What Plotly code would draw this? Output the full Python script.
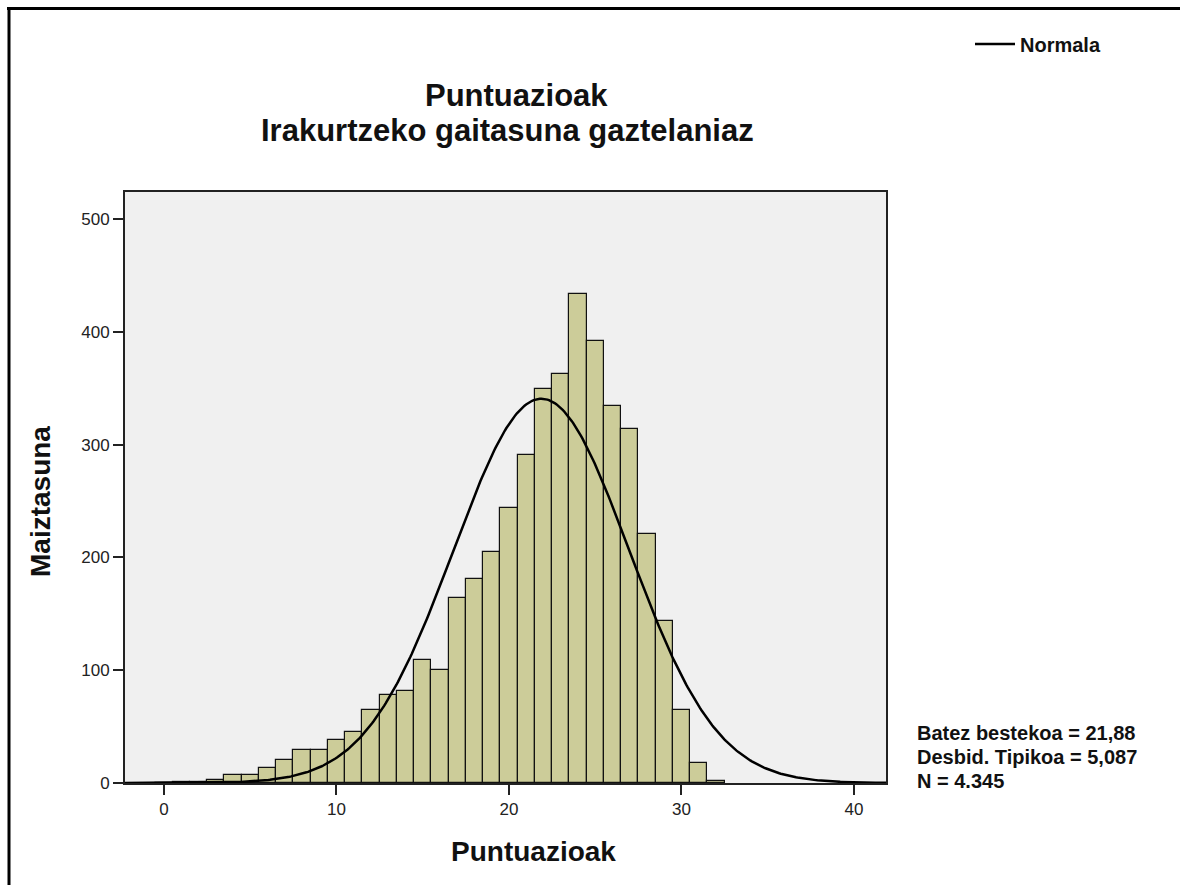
import numpy as np
import plotly.graph_objects as go

# Histogram data (bins centred on integer scores, width 1)
scores = list(range(0, 33))
counts = [0, 1, 1, 3, 7, 7, 13, 20, 29, 29, 38, 45, 65, 78, 82, 109, 100,
          164, 181, 205, 244, 291, 349, 363, 434, 392, 334, 314, 221, 144, 65, 18, 2]

mean_val = 21.88
sd_val = 5.087
n_val = 4345

title_lines = ["Puntuazioak", "Irakurtzeko gaitasuna gaztelaniaz"]
x_title = "Puntuazioak"
y_title = "Maiztasuna"
legend_label = "Normala"
stats_lines = ["Batez bestekoa = 21,88", "Desbid. Tipikoa = 5,087", "N = 4.345"]

x_ticks = [0, 10, 20, 30, 40]
y_ticks = [0, 100, 200, 300, 400, 500]
x_range = [-2.26, 41.86]
y_range = [0, 524]

W, H = 1180, 885
# plot area in page coordinates: x 125..886, y 192..783
L, T = 125, 192
R = W - 886
B = H - 783
pw, ph = W - L - R, H - T - B

def px(x):  # page x -> paper
    return (x - L) / pw

def py(y):  # page y -> paper
    return (H - B - y) / ph

FONT = "Liberation Sans, Arial, sans-serif"

xs = np.linspace(x_range[0], x_range[1], 500)
ys = n_val / (sd_val * np.sqrt(2 * np.pi)) * np.exp(-0.5 * ((xs - mean_val) / sd_val) ** 2)

fig = go.Figure()
fig.add_trace(go.Bar(
    x=scores, y=counts, width=1,
    marker=dict(color="#cccc99", line=dict(color="#111111", width=1.2)),
    showlegend=False, hoverinfo="x+y"))
fig.add_trace(go.Scatter(
    x=xs, y=ys, mode="lines", name="<b>" + legend_label + "</b>",
    line=dict(color="#000000", width=2.5), showlegend=True))

fig.update_layout(
    width=W, height=H,
    margin=dict(l=L, r=R, t=T, b=B, autoexpand=False),
    paper_bgcolor="white", plot_bgcolor="#f0f0f0",
    bargap=0,
    font=dict(family=FONT, color="#222222"),
    legend=dict(x=px(970), y=py(44), xanchor="left", yanchor="middle",
                bgcolor="rgba(0,0,0,0)", font=dict(size=20, color="#111111", family=FONT),
                itemwidth=40),
    xaxis=dict(range=x_range, tickvals=x_ticks, ticks="outside", ticklen=10,
               tickwidth=1.5, tickcolor="#222222", showgrid=False, zeroline=False,
               showline=True, linecolor="#222222", linewidth=2, mirror=True,
               tickfont=dict(size=17, color="#222222")),
    yaxis=dict(range=y_range, tickvals=y_ticks, ticks="outside", ticklen=10,
               tickwidth=1.5, tickcolor="#222222", showgrid=False, zeroline=False,
               showline=True, linecolor="#222222", linewidth=2, mirror=True,
               tickfont=dict(size=17, color="#222222")),
)

ann = []
ann.append(dict(text="<b>" + title_lines[0] + "</b>", x=px(516), y=py(95),
                xref="paper", yref="paper", showarrow=False,
                font=dict(size=31, color="#111111"), xanchor="center", yanchor="middle"))
ann.append(dict(text="<b>" + title_lines[1] + "</b>", x=px(507), y=py(131),
                xref="paper", yref="paper", showarrow=False,
                font=dict(size=31, color="#111111"), xanchor="center", yanchor="middle"))
ann.append(dict(text="<b>" + x_title + "</b>", x=px(533), y=py(851),
                xref="paper", yref="paper", showarrow=False,
                font=dict(size=28, color="#111111"), xanchor="center", yanchor="middle"))
ann.append(dict(text="<b>" + y_title + "</b>", x=px(40), y=py(502),
                xref="paper", yref="paper", showarrow=False, textangle=-90,
                font=dict(size=28, color="#111111"), xanchor="center", yanchor="middle"))
for i, s in enumerate(stats_lines):
    ann.append(dict(text="<b>" + s + "</b>", x=px(915), y=py(733 + 24 * i),
                    xref="paper", yref="paper", showarrow=False,
                    font=dict(size=20, color="#111111"), xanchor="left", yanchor="middle"))
fig.update_layout(annotations=ann)

# outer frame (top and left edges)
fig.add_shape(type="line", xref="paper", yref="paper",
              x0=px(7), x1=px(1190), y0=py(8.5), y1=py(8.5),
              line=dict(color="black", width=3))
fig.add_shape(type="line", xref="paper", yref="paper",
              x0=px(9), x1=px(9), y0=py(7), y1=py(900),
              line=dict(color="black", width=3))

fig.write_html("out.html",
               config={"displayModeBar": False},
               post_script="document.body.style.margin='0';document.body.style.overflow='hidden';")
